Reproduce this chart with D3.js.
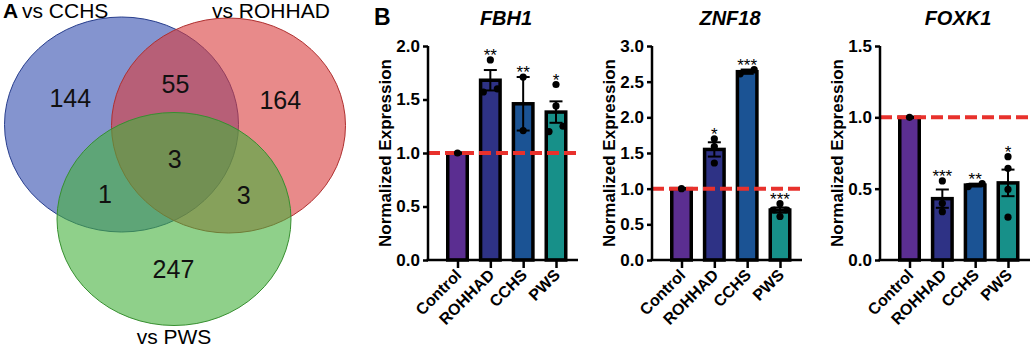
<!DOCTYPE html>
<html>
<head>
<meta charset="utf-8">
<script src="https://cdn.jsdelivr.net/npm/d3@7"></script>
<style>
  body { margin: 0; background: #fff; }
  svg { display: block; font-family: "Liberation Sans", Arial, Helvetica, sans-serif; }
</style>
</head>
<body>
<svg id="fig" width="1032" height="348"></svg>
<script>
// ---- Panel A: Venn ----
const vennSets = ["vs CCHS", "vs ROHHAD", "vs PWS"];
const vennColors = ["#324daf", "#d93c3c", "#44b13c"];
// membership [CCHS, ROHHAD, PWS] of each region, and its gene count
const vennRegions = ["100", "110", "010", "111", "101", "011", "001"];
const vennCounts = [144, 55, 164, 3, 1, 3, 247];

// ---- Panel B: qPCR bars ----
const groups = ["Control", "ROHHAD", "CCHS", "PWS"];
const groupColors = ["#5b2e91", "#2e3285", "#1b5394", "#179089"];
const genes = ["FBH1", "ZNF18", "FOXK1"];
const yMaxes = [2.0, 3.0, 1.5];
const fbh1Values = [[1.0], [1.87, 1.60, 1.57], [1.71, 1.21], [1.64, 1.44, 1.25, 1.20]];
const znf18Values = [[1.0], [1.70, 1.59, 1.36], [2.61, 2.67], [0.79, 0.70, 0.70, 0.61]];
const foxk1Values = [[1.0], [0.554, 0.397, 0.339], [0.515, 0.535], [0.724, 0.643, 0.495, 0.30]];
const fbh1Stars = ["", "**", "**", "*"];
const znf18Stars = ["", "*", "***", "***"];
const foxk1Stars = ["", "***", "**", "*"];

const svg = d3.select("#fig");

// ---------- Venn ----------
// ellipse layout (centre / radii) for the three sets
const ellipses = [
  { cx: 121.5, cy: 124.5, rx: 117, ry: 107.5 },
  { cx: 228.5, cy: 125.5, rx: 117, ry: 107.5 },
  { cx: 174,   cy: 219,   rx: 117, ry: 106.5 }
];
const venn = svg.append("g");
ellipses.forEach((e, i) => {
  venn.append("ellipse")
    .attr("cx", e.cx).attr("cy", e.cy).attr("rx", e.rx).attr("ry", e.ry)
    .style("fill", vennColors[i])
    .style("fill-opacity", 0.6)
    .style("stroke", d3.color(vennColors[i]).darker(0.6))
    .style("stroke-width", 1);
});

// region label positions: centroid of each region, found by sampling
const inside = (e, x, y) => ((x - e.cx) / e.rx) ** 2 + ((y - e.cy) / e.ry) ** 2 <= 1;
const acc = {};
for (let x = 0; x < 350; x += 1) {
  for (let y = 0; y < 348; y += 1) {
    const key = ellipses.map(e => inside(e, x, y) ? "1" : "0").join("");
    if (key === "000") continue;
    acc[key] = acc[key] || { sx: 0, sy: 0, n: 0 };
    acc[key].sx += x; acc[key].sy += y; acc[key].n += 1;
  }
}
vennRegions.forEach((key, i) => {
  const a = acc[key];
  venn.append("text")
    .attr("x", a.sx / a.n)
    .attr("y", a.sy / a.n)
    .attr("text-anchor", "middle")
    .attr("dominant-baseline", "central")
    .style("font-size", "25px")
    .style("fill", "#111")
    .text(vennCounts[i]);
});

venn.append("text").attr("x", 3).attr("y", 18)
  .style("font-size", "21px").style("font-weight", "bold").text("A");
venn.append("text").attr("x", 22).attr("y", 18)
  .style("font-size", "21px").text(vennSets[0]);
venn.append("text").attr("x", 212).attr("y", 18)
  .style("font-size", "21px").text(vennSets[1]);
venn.append("text").attr("x", 174).attr("y", 344).attr("text-anchor", "middle")
  .style("font-size", "21px").text(vennSets[2]);

// ---------- Bars ----------
svg.append("text").attr("x", 374).attr("y", 25)
  .style("font-size", "23px").style("font-weight", "bold").text("B");

const panelX = [428, 652, 880];
const axisW = 150;
const yTop = 46, yBottom = 260;

const mean = a => d3.mean(a);
const sem = a => a.length > 1 ? d3.deviation(a) / Math.sqrt(a.length) : 0;

function drawPanel(x0, gene, values, stars, yMax) {
  const g = svg.append("g").attr("transform", `translate(${x0},0)`);
  const y = d3.scaleLinear().domain([0, yMax]).range([yBottom, yTop]);
  const x = d3.scalePoint().domain(groups).range([29.5, 128]);
  const barW = 19.5;

  // bars
  groups.forEach((grp, i) => {
    const m = mean(values[i]);
    g.append("rect")
      .attr("x", x(grp) - barW / 2)
      .attr("y", y(m))
      .attr("width", barW)
      .attr("height", y(0) - y(m))
      .style("fill", groupColors[i])
      .style("stroke", "#000")
      .style("stroke-width", 3.5);
  });

  // reference line at 1.0
  g.append("line")
    .attr("x1", 0).attr("x2", axisW)
    .attr("y1", y(1)).attr("y2", y(1))
    .style("stroke", "#e8312c")
    .style("stroke-width", 4)
    .style("stroke-dasharray", "12,5");

  // points (rows of nearly equal values are spread sideways), error bars, stars
  groups.forEach((grp, i) => {
    const vals = values[i].slice().sort((a, b) => b - a);
    const rows = [];
    vals.forEach(v => {
      const last = rows[rows.length - 1];
      if (last && Math.abs(y(v) - y(last[0])) < 6) last.push(v);
      else rows.push([v]);
    });
    rows.forEach(row => {
      row.slice().sort((a, b) => a - b).forEach((v, j) => {
        g.append("circle")
          .attr("cx", x(grp) + (j - (row.length - 1) / 2) * 14)
          .attr("cy", y(v))
          .attr("r", 3.6)
          .style("fill", "#000");
      });
    });

    const m = mean(values[i]), s = sem(values[i]);
    if (s > 0) {
      g.append("line")
        .attr("x1", x(grp)).attr("x2", x(grp))
        .attr("y1", y(m - s)).attr("y2", y(m + s))
        .style("stroke", "#000").style("stroke-width", 2);
      [m - s, m + s].forEach(v => {
        g.append("line")
          .attr("x1", x(grp) - 6.5).attr("x2", x(grp) + 6.5)
          .attr("y1", y(v)).attr("y2", y(v))
          .style("stroke", "#000").style("stroke-width", 2);
      });
    }
    if (stars[i]) {
      const top = Math.min(y(d3.max(values[i])), y(m + s));
      g.append("text")
        .attr("x", x(grp))
        .attr("y", top + 1)
        .attr("text-anchor", "middle")
        .style("font-size", "17px")
        .text(stars[i]);
    }
  });

  // axes
  const yAxis = d3.axisLeft(y).tickValues(d3.range(0, yMax + 0.01, 0.5))
    .tickFormat(d3.format(".1f")).tickSize(5).tickPadding(3);
  const ya = g.append("g").call(yAxis);
  ya.select(".domain").attr("d", `M0,${yTop}V${yBottom}`);
  const xa = g.append("g").attr("transform", `translate(0,${yBottom})`)
    .call(d3.axisBottom(x).tickSize(8).tickFormat(""));
  xa.select(".domain").attr("d", `M-1.5,0H${axisW}`);
  [ya, xa].forEach(a => {
    a.selectAll("path, line").style("stroke", "#000").style("stroke-width", 2.5);
  });
  ya.selectAll("text").style("font-size", "17px").style("font-weight", "bold").style("fill", "#000");

  groups.forEach(grp => {
    g.append("text")
      .attr("transform", `translate(${x(grp) + 5},${yBottom + 16}) rotate(-45)`)
      .attr("text-anchor", "end")
      .style("font-size", "16px")
      .style("font-weight", "bold")
      .text(grp);
  });

  g.append("text")
    .attr("transform", `translate(-43,${(yTop + yBottom) / 2}) rotate(-90)`)
    .attr("text-anchor", "middle")
    .attr("dominant-baseline", "central")
    .style("font-size", "17px")
    .style("font-weight", "bold")
    .text("Normalized Expression");

  g.append("text")
    .attr("x", 78).attr("y", 25)
    .attr("text-anchor", "middle")
    .style("font-size", "20px")
    .style("font-weight", "bold")
    .style("font-style", "italic")
    .text(gene);
}

drawPanel(panelX[0], genes[0], fbh1Values, fbh1Stars, yMaxes[0]);
drawPanel(panelX[1], genes[1], znf18Values, znf18Stars, yMaxes[1]);
drawPanel(panelX[2], genes[2], foxk1Values, foxk1Stars, yMaxes[2]);
</script>
</body>
</html>
